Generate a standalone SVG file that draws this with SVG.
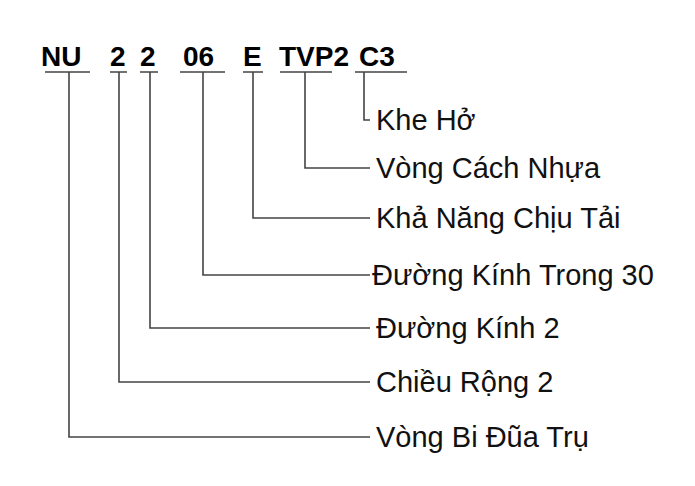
<svg xmlns="http://www.w3.org/2000/svg" width="695" height="486" viewBox="0 0 695 486">
<style>
.c{font-family:"Liberation Sans",sans-serif;font-weight:bold;font-size:28px;fill:#000}
.l{font-family:"Liberation Sans",sans-serif;font-size:29px;fill:#111}
.w{stroke:#444;stroke-width:1.6;fill:none}
</style>
<rect width="695" height="486" fill="#fff"/>
<g id="code">
<text class="c" x="41" y="66">NU</text>
<text class="c" x="110" y="66">2</text>
<text class="c" x="140" y="66">2</text>
<text class="c" x="183" y="66">06</text>
<text class="c" x="243" y="66">E</text>
<text class="c" x="279" y="66">TVP2</text>
<text class="c" x="359" y="66">C3</text>
</g>
<g id="connectors" class="w">
<path d="M45 72H90M110 72H127M140 72H158M180 72H225M243 72H263M280 72H332M355 72H407"/>
<path d="M364 72V120H370"/>
<path d="M305 72V168H370"/>
<path d="M253 72V218H370"/>
<path d="M203 72V275H370"/>
<path d="M150 72V328H370"/>
<path d="M119 72V382H370"/>
<path d="M69 72V437H370"/>
</g>
<g id="labels">
<text class="l" x="376" y="130">Khe Hở</text>
<text class="l" x="376" y="178">Vòng Cách Nhựa</text>
<text class="l" x="376" y="228">Khả Năng Chịu Tải</text>
<text class="l" x="372" y="285">Đường Kính Trong 30</text>
<text class="l" x="376" y="338">Đường Kính 2</text>
<text class="l" x="376" y="392">Chiều Rộng 2</text>
<text class="l" x="376" y="447">Vòng Bi Đũa Trụ</text>
</g>
</svg>
